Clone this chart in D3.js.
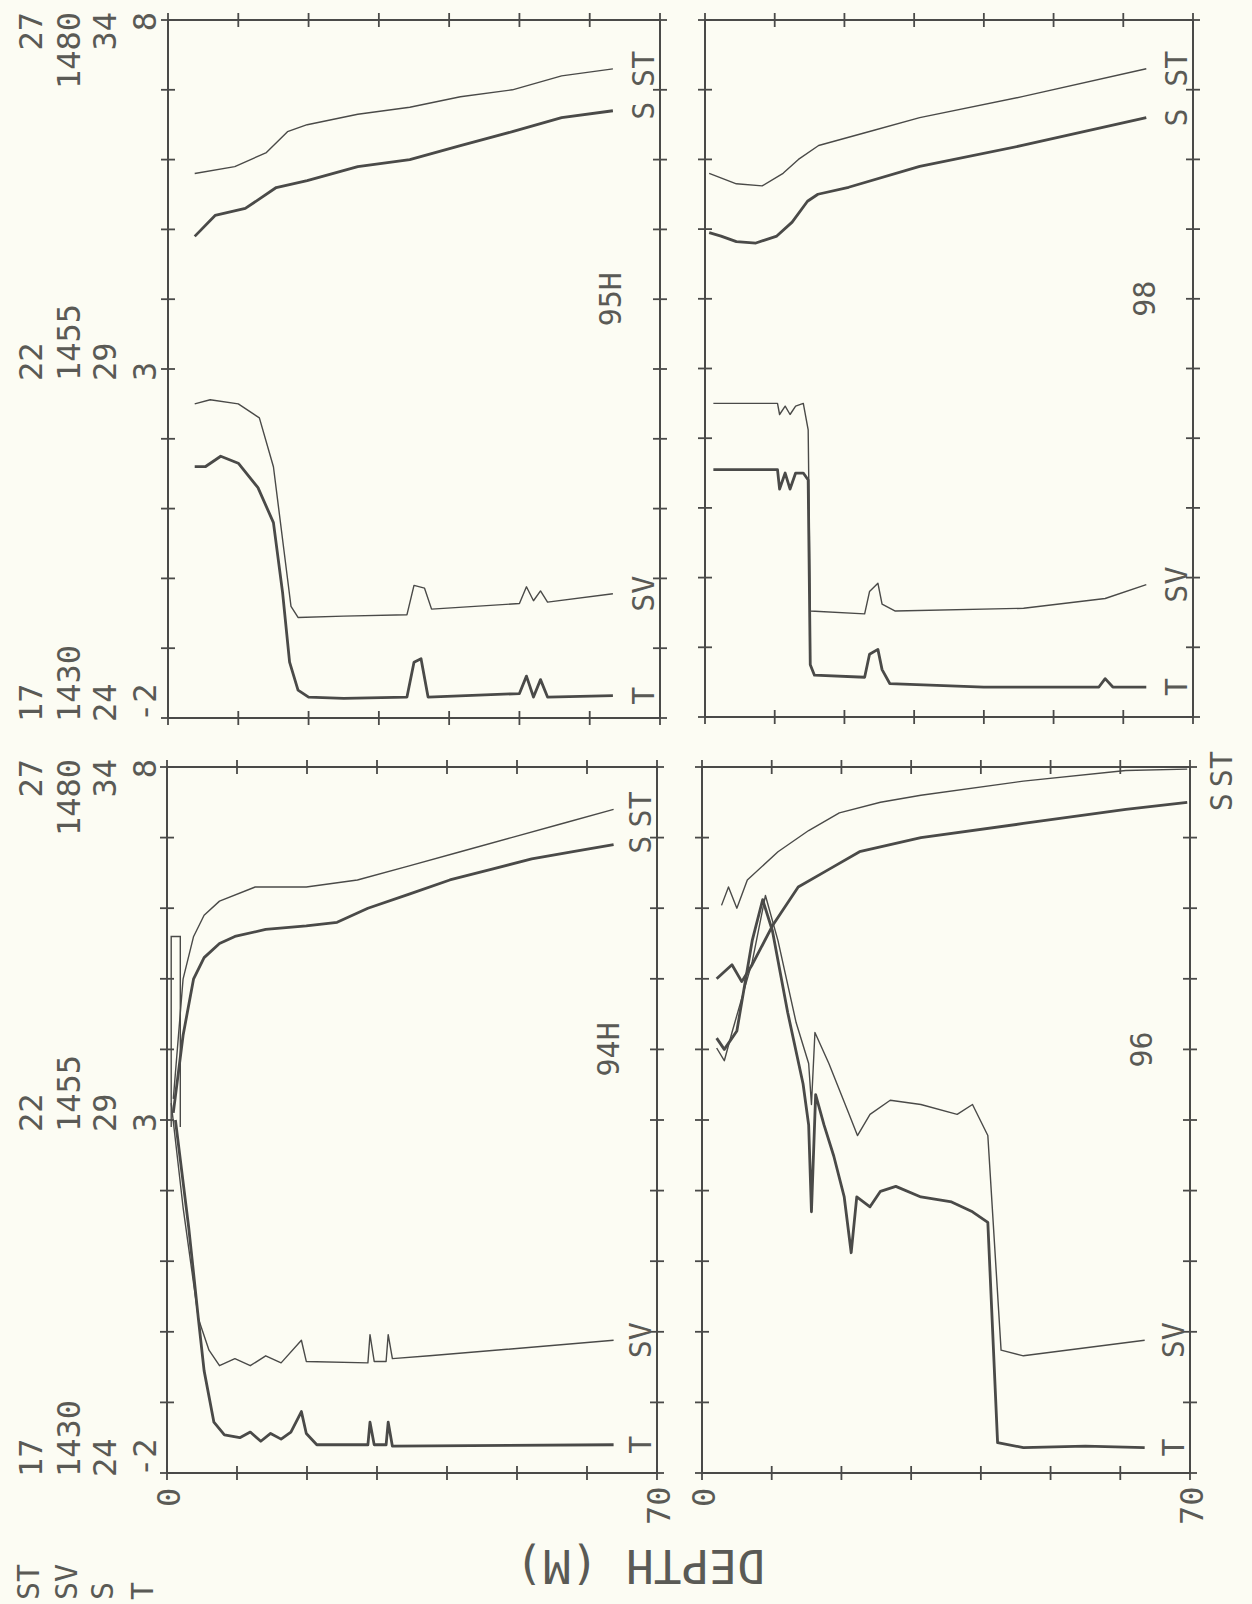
<!DOCTYPE html>
<html>
<head>
<meta charset="utf-8">
<script src="https://cdn.jsdelivr.net/npm/d3@7"></script>
<style>
  html, body { margin: 0; padding: 0; background: #fcfcf3; }
  svg text { font-family: "DejaVu Sans Mono", monospace; fill: #5a5a55; }
</style>
</head>
<body>
<svg id="chart" width="1252" height="1604"></svg>
<script>
// value ranges of the four traces (left labels)
const ranges = {ST: [17, 27], SV: [1430, 1480], S: [24, 34], T: [-2, 8]};
const tickLabels = {
  ST: ['17', '22', '27'],
  SV: ['1430', '1455', '1480'],
  S:  ['24', '29', '34'],
  T:  ['-2', '3', '8']
};
const depthTicks = d3.range(0, 71, 10);

// station 95H  [depth m, value]
const st95H_T  = [[3.8,1.6],[5.3,1.6],[7.5,1.75],[10,1.65],[12.8,1.3],[15,0.8],[16.3,-0.2],[17.3,-1.2],[18.5,-1.6],[20,-1.7],[25,-1.72],[34,-1.7],[35,-1.2],[36,-1.15],[37,-1.7],[50,-1.65],[51,-1.4],[52,-1.7],[53,-1.45],[54,-1.7],[63.3,-1.68]];
const st95H_SV = [[3.8,1452.5],[6,1452.8],[10,1452.5],[13,1451.5],[15,1448],[16.5,1442],[17.5,1438],[18.5,1437.2],[25,1437.3],[34,1437.4],[35,1439.5],[36.5,1439.3],[37.5,1437.8],[50,1438.2],[51,1439.4],[52,1438.4],[53,1439.1],[54,1438.3],[63.3,1438.9]];
const st95H_S  = [[3.8,30.9],[6.7,31.2],[11,31.3],[15.4,31.6],[19.8,31.7],[27,31.9],[34.4,32.0],[41.6,32.2],[49,32.4],[56,32.6],[63.3,32.7]];
const st95H_ST = [[3.8,24.8],[9.5,24.9],[14,25.1],[17,25.4],[19.8,25.5],[27,25.65],[34.4,25.75],[41.6,25.9],[49,26.0],[56,26.2],[63.3,26.3]];

// station 98
const st98_T  = [[1.2,1.55],[6,1.55],[10.4,1.55],[10.7,1.27],[11.5,1.5],[12.2,1.27],[13,1.5],[14.1,1.5],[14.8,1.4],[15.1,-1.25],[15.7,-1.4],[22.9,-1.43],[23.6,-1.1],[24.8,-1.03],[25.4,-1.32],[26.5,-1.52],[40,-1.57],[56.5,-1.57],[57.4,-1.45],[58.5,-1.57],[63.3,-1.57]];
const st98_SV = [[1.2,1452.5],[6,1452.5],[10.4,1452.5],[10.7,1451.7],[11.5,1452.3],[12.2,1451.7],[13,1452.3],[14.1,1452.5],[14.8,1450.6],[15.1,1437.6],[22.9,1437.4],[23.6,1439],[24.8,1439.6],[25.4,1438.1],[27.3,1437.6],[45.7,1437.8],[57.4,1438.5],[63.3,1439.5]];
const st98_S  = [[0.6,30.95],[2.3,30.9],[4.5,30.82],[7.3,30.8],[10.3,30.9],[12.5,31.1],[14.7,31.4],[16.2,31.5],[20.6,31.6],[30.8,31.9],[45.5,32.2],[63.3,32.6]];
const st98_ST = [[0.6,24.8],[4.5,24.65],[8.2,24.62],[11.2,24.8],[13.4,25.0],[16.3,25.2],[23.6,25.4],[30.8,25.6],[45.5,25.9],[63.3,26.3]];

// station 94H
const st94H_T  = [[1.2,3.0],[3.1,1.48],[4.5,0.17],[5.3,-0.55],[6.7,-1.28],[8.2,-1.46],[10.4,-1.5],[11.9,-1.42],[13.4,-1.55],[14.8,-1.44],[16.3,-1.52],[17.7,-1.42],[19.2,-1.13],[19.9,-1.44],[21.4,-1.6],[28.7,-1.6],[29,-1.28],[29.6,-1.6],[31.3,-1.6],[31.6,-1.28],[32.2,-1.62],[63.8,-1.6]];
const st94H_SV = [[0.6,1456.2],[2.3,1448.8],[4.5,1440.9],[6,1438.7],[7.5,1437.6],[9.7,1438.1],[11.9,1437.6],[14.1,1438.3],[16.3,1437.8],[19.2,1439.4],[19.9,1437.9],[28.7,1437.8],[29,1439.8],[29.6,1437.9],[31.3,1437.9],[31.6,1439.8],[32.2,1438.1],[37.5,1438.3],[63.8,1439.4]];
const st94H_S  = [[0.9,29.1],[2.3,30.2],[3.8,31.0],[5.3,31.3],[7.5,31.5],[9.7,31.6],[14.1,31.7],[19.9,31.75],[24.3,31.8],[28.7,32.0],[34.6,32.2],[40.4,32.4],[46.3,32.55],[52.1,32.7],[58,32.8],[63.8,32.9]];
const st94H_ST = [[0.9,22.3],[2.3,24.0],[3.8,24.6],[5.3,24.9],[7.5,25.1],[12.6,25.3],[19.9,25.3],[27.2,25.4],[34.6,25.6],[41.9,25.8],[49.2,26.0],[56.5,26.2],[63.8,26.4]];
// surface loop of the sigma-t trace
const st94H_box = [[0.6,21.9],[0.6,24.6],[1.9,24.6],[1.9,21.9]];

// station 96
const st96_T  = [[2.1,4.16],[3.2,4.0],[5,4.26],[7.2,5.54],[8.7,6.12],[10.1,5.68],[12.3,4.52],[14.5,3.51],[15.3,2.93],[15.7,1.7],[16.3,3.36],[17.5,2.93],[18.9,2.49],[20.4,1.91],[21.4,1.12],[22.2,1.91],[24.1,1.77],[25.6,1.99],[27.8,2.06],[31.4,1.91],[35.8,1.84],[38.8,1.7],[41,1.55],[42.4,-1.57],[46.1,-1.64],[55,-1.62],[63.5,-1.64]];
const st96_SV = [[2.1,1460.1],[3.2,1459.2],[4.3,1461.2],[7.2,1466.2],[9.1,1470.9],[10.9,1467.7],[13.5,1461.9],[15.3,1459],[15.7,1456.1],[16.2,1461.2],[18.2,1459],[21.1,1455.4],[22.3,1453.9],[24.1,1455.4],[27,1456.4],[31.4,1456.1],[36.6,1455.4],[38.8,1456.1],[41,1453.9],[42.9,1438.7],[46.1,1438.3],[63.5,1439.4]];
const st96_S  = [[2.1,31.0],[4.3,31.2],[5.7,30.96],[7.2,31.2],[10.1,31.75],[13.8,32.3],[18.2,32.55],[22.6,32.8],[27,32.9],[31.4,33.0],[46.1,33.2],[60.8,33.4],[69.6,33.5]];
const st96_ST = [[2.8,25.04],[3.8,25.3],[5,25.0],[6.5,25.4],[10.9,25.8],[15.3,26.1],[19.7,26.35],[25.6,26.5],[31.4,26.6],[46.1,26.8],[60.8,26.95],[69.6,26.97]];

const panels = [
  {name: '95H', x0: 168, x1: 660, y0: 20,  y1: 718,  T: st95H_T, SV: st95H_SV, S: st95H_S, ST: st95H_ST, depthLabels: false},
  {name: '98',  x0: 705, x1: 1193, y0: 20, y1: 717,  T: st98_T,  SV: st98_SV,  S: st98_S,  ST: st98_ST,  depthLabels: false},
  {name: '94H', x0: 167, x1: 657, y0: 767, y1: 1473, T: st94H_T, SV: st94H_SV, S: st94H_S, ST: st94H_ST, box: st94H_box, depthLabels: true},
  {name: '96',  x0: 702, x1: 1190, y0: 767, y1: 1473, T: st96_T,  SV: st96_SV,  S: st96_S,  ST: st96_ST,  depthLabels: true}
];

const svg = d3.select('#chart');
const ink = '#4a4a48';
const labelCols = [['ST', 42], ['SV', 80], ['S', 116], ['T', 156]];

function rotText(g, x, y, txt, anchor, size, angle) {
  return g.append('text')
    .attr('transform', `translate(${x},${y}) rotate(${angle || -90})`)
    .attr('text-anchor', anchor)
    .style('font-size', (size || 34) + 'px')
    .text(txt);
}

panels.forEach(function(p) {
  const g = svg.append('g');
  const x = d3.scaleLinear().domain([0, 70]).range([p.x0, p.x1]);
  const frac = d3.scaleLinear().domain([0, 1]).range([p.y1, p.y0]);

  // frame
  g.append('rect')
    .attr('x', p.x0).attr('y', p.y0)
    .attr('width', p.x1 - p.x0).attr('height', p.y1 - p.y0)
    .attr('fill', 'none').attr('stroke', ink).attr('stroke-width', 2);

  // depth ticks on top and bottom
  depthTicks.forEach(function(d) {
    [p.y0, p.y1].forEach(function(yy) {
      g.append('line').attr('x1', x(d)).attr('x2', x(d))
        .attr('y1', yy - 7).attr('y2', yy + 7)
        .attr('stroke', ink).attr('stroke-width', 1.8);
    });
  });
  // value ticks on left and right
  d3.range(0, 1.01, 0.1).forEach(function(f) {
    [p.x0, p.x1].forEach(function(xx) {
      g.append('line').attr('x1', xx - 7).attr('x2', xx + 7)
        .attr('y1', frac(f)).attr('y2', frac(f))
        .attr('stroke', ink).attr('stroke-width', 1.8);
    });
  });

  // traces
  ['ST', 'S', 'SV', 'T'].forEach(function(k) {
    const y = d3.scaleLinear().domain(ranges[k]).range([p.y1, p.y0]);
    const line = d3.line().x(d => x(d[0])).y(d => y(d[1]));
    const thick = (k === 'T' || k === 'S');
    g.append('path').datum(p[k])
      .attr('d', line)
      .attr('fill', 'none')
      .attr('stroke', ink)
      .attr('stroke-width', thick ? 2.8 : 1.4)
      .attr('stroke-linejoin', 'round');
    if (k === 'ST' && p.box) {
      g.append('path').datum(p.box).attr('d', line)
        .attr('fill', 'none').attr('stroke', ink).attr('stroke-width', 1.4);
    }
    const last = p[k][p[k].length - 1];
    const lx = last[0] > 66 ? p.x1 + 42 : p.x1 - 6;
    rotText(g, lx, y(last[1]), k, 'middle', 30);
  });

  // station name
  rotText(g, x(64.5), frac(0.6), p.name, 'middle', 30);

  // value labels at the left of the left panels
  if (p.x0 < 300) {
    labelCols.forEach(function(c, i) {
      const labs = tickLabels[c[0]];
      rotText(g, c[1], p.y1 + 4, labs[0], 'start', 32);
      rotText(g, c[1], frac(0.5) + 12, labs[1], 'start', 32);
      rotText(g, c[1], p.y0 - 8, labs[2], 'end', 32);
    });
  }
  if (p.depthLabels) {
    rotText(g, x(0) + 13, p.y1 + 34, '0', 'start', 32);
    rotText(g, x(70) + 13, p.y1 + 52, '70', 'start', 32);
  }
});

// legend of the label columns
labelCols.forEach(function(c) {
  rotText(svg, c[1] - 3, 1600, c[0], 'start', 30);
});

// axis title
rotText(svg, 640, 1550, 'DEPTH (M)', 'middle', 46, 180);
</script>
</body>
</html>
